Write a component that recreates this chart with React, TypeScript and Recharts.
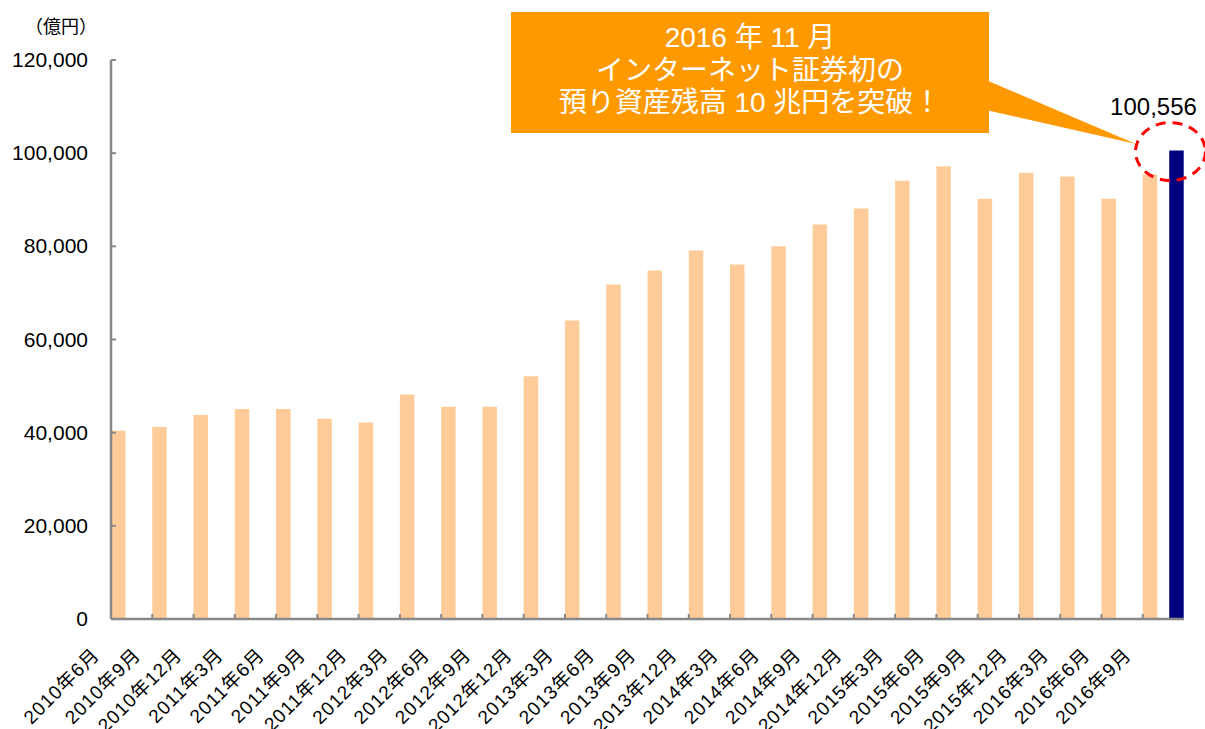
import React from 'react';
import { BarChart, Bar, XAxis, YAxis, LabelList } from 'recharts';

const categories = [
  '2010年6月', '2010年9月', '2010年12月',
  '2011年3月', '2011年6月', '2011年9月', '2011年12月',
  '2012年3月', '2012年6月', '2012年9月', '2012年12月',
  '2013年3月', '2013年6月', '2013年9月', '2013年12月',
  '2014年3月', '2014年6月', '2014年9月', '2014年12月',
  '2015年3月', '2015年6月', '2015年9月', '2015年12月',
  '2016年3月', '2016年6月', '2016年9月',
];
const quarterlyValues = [
  40400, 41200, 43800,
  45100, 45100, 43000, 42200,
  48200, 45550, 45550, 52100,
  64100, 71800, 74800, 79100,
  76100, 80000, 84700, 88100,
  94100, 97200, 90200, 95800,
  95000, 90200, 95500,
];
const milestoneValue = 100556;
const yTicks = [0, 20000, 40000, 60000, 80000, 100000, 120000];
const calloutLines = ['2016 年 11 月', 'インターネット証券初の', '預り資産残高 10 兆円を突破！'];
const unitLabel = '（億円）';

const data = categories.map((c, i) => ({
  label: c,
  value: quarterlyValues[i],
  milestone: i === categories.length - 1 ? milestoneValue : null,
}));

const W = 1205;
const H = 729;
const M_TOP = 60;
const M_RIGHT = 21;
const Y_W = 111;
const X_H = 110;
const PLOT_W = W - Y_W - M_RIGHT;
const BAND = PLOT_W / categories.length;
const AXIS_COLOR = '#888888';
const FONT = '"Liberation Sans", Arial, "Noto Sans CJK JP", sans-serif';

const YTick = (props: any) => {
  const { x, y, payload } = props;
  return (
    <g>
      <line x1={x + 23} x2={x + 28} y1={y} y2={y} stroke={AXIS_COLOR} strokeWidth={2} />
      <text x={x} y={y} dy={7} textAnchor="end" fontSize={21} fill="#000" fontFamily={FONT}>
        {Number(payload.value).toLocaleString('en-US')}
      </text>
    </g>
  );
};

const XTick = (props: any) => {
  const { x, y, payload } = props;
  const ax = x - 31;
  const ay = y + 37;
  const bx = x - BAND / 2;
  return (
    <g>
      <line x1={bx} x2={bx} y1={y - 5} y2={y} stroke={AXIS_COLOR} strokeWidth={2} />
      <text
        x={ax}
        y={ay}
        textAnchor="end"
        fontSize={19}
        letterSpacing={1}
        fill="#000"
        fontFamily={FONT}
        transform={`rotate(-45, ${ax}, ${ay})`}
      >
        {payload.value}
      </text>
    </g>
  );
};

const MilestoneLabel = (props: any) => {
  const { x, y, width, value } = props;
  if (value == null) return null;
  const cx = x + width / 2;
  return (
    <g>
      <ellipse
        cx={cx - 6}
        cy={y + 1}
        rx={35}
        ry={29}
        fill="none"
        stroke="#FF0000"
        strokeWidth={3}
        strokeDasharray="10 7"
      />
      <text x={cx - 23} y={y - 36} textAnchor="middle" fontSize={24} fill="#000" fontFamily={FONT}>
        {Number(value).toLocaleString('en-US')}
      </text>
    </g>
  );
};

export default function App() {
  return (
    <div style={{ position: 'absolute', left: 0, top: 0, width: W, height: H, background: '#fff' }}>
      <BarChart
        width={W}
        height={H}
        data={data}
        margin={{ top: M_TOP, right: M_RIGHT, bottom: 0, left: 0 }}
        barGap={12}
      >
        <XAxis
          dataKey="label"
          interval={0}
          height={X_H}
          tickLine={false}
          tickSize={0}
          tickMargin={0}
          axisLine={{ stroke: AXIS_COLOR, strokeWidth: 2.5 }}
          tick={<XTick />}
        />
        <YAxis
          width={Y_W}
          domain={[0, 120000]}
          ticks={yTicks}
          interval={0}
          tickLine={false}
          tickSize={0}
          tickMargin={23}
          axisLine={{ stroke: AXIS_COLOR, strokeWidth: 2.5 }}
          tick={<YTick />}
        />
        <Bar dataKey="value" fill="#FFCC99" barSize={14.5} isAnimationActive={false} />
        <Bar dataKey="milestone" fill="#000080" barSize={14.5} isAnimationActive={false}>
          <LabelList dataKey="milestone" content={<MilestoneLabel />} />
        </Bar>
      </BarChart>
      <svg
        width={W}
        height={H}
        style={{ position: 'absolute', left: 0, top: 0, pointerEvents: 'none' }}
      >
        <text x={61} y={33} textAnchor="middle" fontSize={18} fill="#000" fontFamily={FONT}>
          {unitLabel}
        </text>
        <polygon points="986,80 1136,144 986,110" fill="#FF9900" />
        <rect x={511} y={12} width={478} height={121} fill="#FF9900" />
        {calloutLines.map((line, i) => (
          <text
            key={i}
            x={750}
            y={47 + i * 32.5}
            textAnchor="middle"
            fontSize={28}
            fill="#fff"
            fontFamily={FONT}
          >
            {line}
          </text>
        ))}
      </svg>
    </div>
  );
}
